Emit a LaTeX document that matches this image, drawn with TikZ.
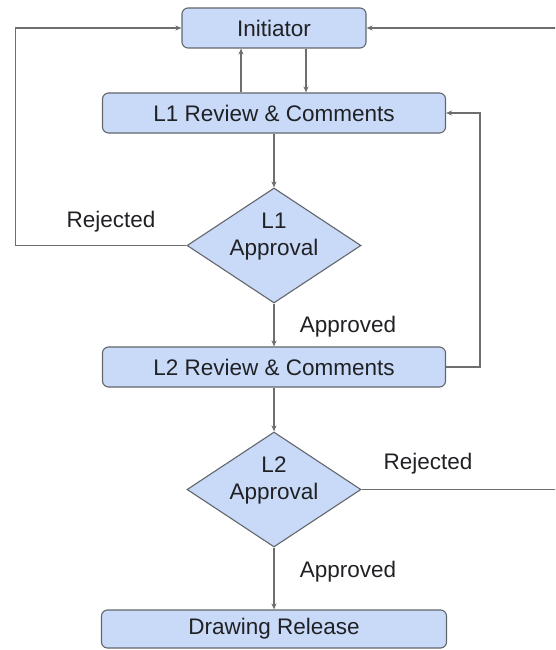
\documentclass[tikz,border=0pt]{standalone}
\usepackage{fontspec}
\setmainfont{Liberation Sans}
\usetikzlibrary{arrows.meta, shapes.geometric}

\definecolor{boxfill}{HTML}{C9DAF8}
\definecolor{boxline}{HTML}{62666B}
\definecolor{flowline}{HTML}{6E6E6E}
\definecolor{ink}{HTML}{202124}

\begin{document}
\begin{tikzpicture}[x=1pt, y=-1pt,
    every node/.style={font=\fontsize{22.5}{27}\selectfont, text=ink},
    stage/.style={draw=boxline, fill=boxfill, rounded corners=6pt, line width=1.1pt, minimum height=40pt, inner sep=0pt},
    gate/.style={draw=boxline, fill=boxfill, diamond, line width=1.1pt, minimum width=174pt, minimum height=115pt, inner sep=0pt},
    link/.style={draw=flowline, line width=1.2pt, -{Stealth[length=6pt, width=5pt]}}
]
    \useasboundingbox (0,0) rectangle (555,650);
    \clip (0,0) rectangle (555,650);

    % boxes
    \node[stage, minimum width=184pt] (init) at (274,28) {Initiator};
    \node[stage, minimum width=343pt] (rev1) at (274,113) {L1 Review \& Comments};
    \node[gate, label={[yshift=9pt, align=center]center:L1\\Approval}] (app1) at (274,245.5) {};
    \node[stage, minimum width=343pt] (rev2) at (274,367) {L2 Review \& Comments};
    \node[gate, label={[yshift=9pt, align=center]center:L2\\Approval}] (app2) at (274,489.5) {};
    \node[stage, minimum width=345pt, minimum height=38pt] (rel) at (274,629) {Drawing Release};

    % labels
    \node (rejA) at (111,222) {Rejected};
    \node (appA) at (348,327) {Approved};
    \node (rejB) at (428,464) {Rejected};
    \node (appB) at (348,572) {Approved};

    % main flow
    \draw[link] ([xshift=32pt]init.south) -- ([xshift=32pt]rev1.north);
    \draw[link] ([xshift=-33pt]rev1.north) -- ([xshift=-33pt]init.south);
    \draw[link] (rev1) -- (app1);
    \draw[link] (app1) -- (rev2);
    \draw[link] (rev2) -- (app2);
    \draw[link] (app2) -- (rel);

    % loops back
    \draw[link] (app1.west) -- ++(-171,0) |- (init.west);
    \draw[link] (app2.east) -- ++(200,0) |- (init.east);
    \draw[link] (rev2.east) -- ++(34,0) |- (rev1.east);
\end{tikzpicture}
\end{document}
